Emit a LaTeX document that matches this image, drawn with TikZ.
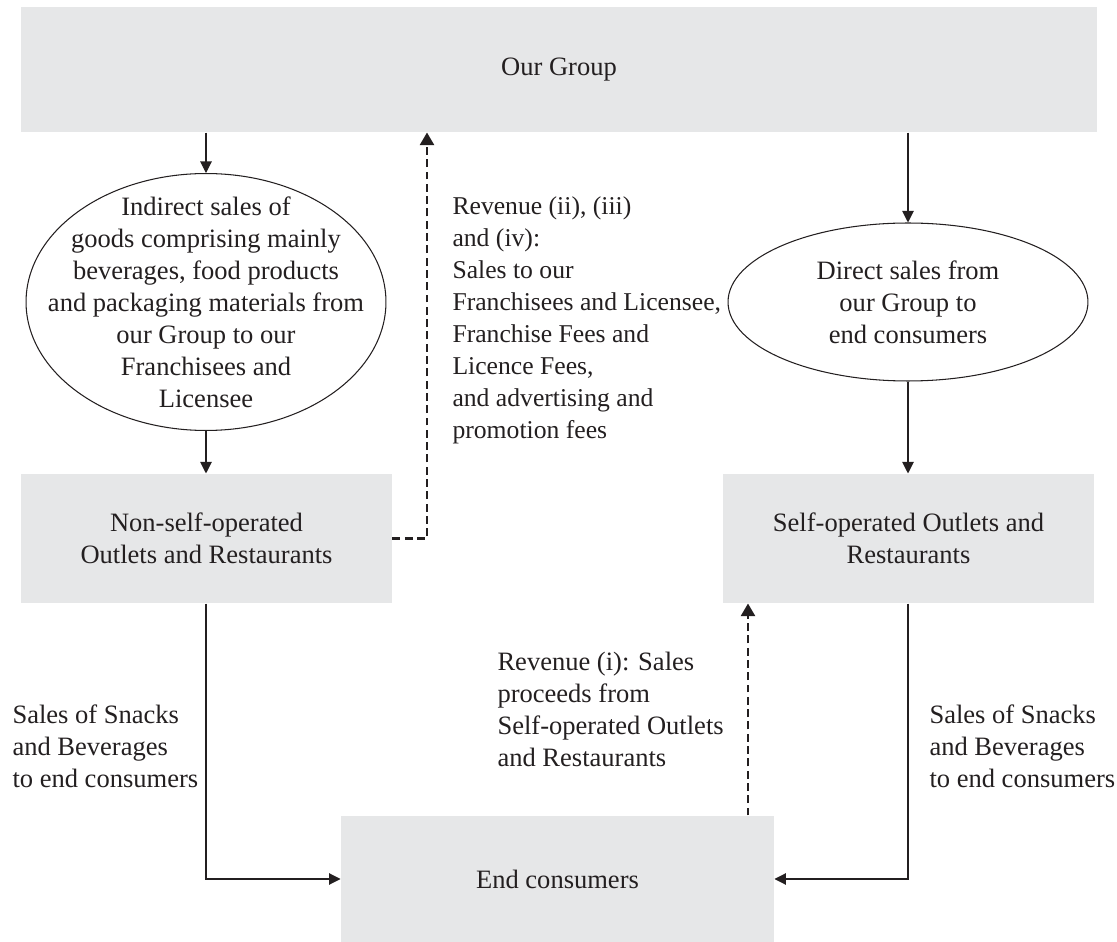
\documentclass[tikz,border=0pt]{standalone}
\usepackage{fontspec}
\setmainfont{Liberation Serif}
\usetikzlibrary{arrows.meta,shapes.geometric,positioning}
\definecolor{boxgray}{HTML}{E6E7E8}
\definecolor{ink}{HTML}{231F20}

\begin{document}
\begin{tikzpicture}[x=0.02cm,y=-0.02cm,
   font=\fontsize{15.1pt}{18.2pt}\selectfont,
   >={Triangle[length=2.3mm,width=2.3mm]},
   line width=0.6pt,draw=ink,text=ink,
   unit/.style={fill=boxgray,inner sep=0pt,align=center},
   sale/.style={ellipse,draw,inner sep=0pt},
   inside/.style={inner sep=0pt,align=center},
   note/.style={anchor=north west,inner sep=0pt,align=left},
   flow/.style={->},
   fee/.style={-{Triangle[length=2.5mm,width=2.8mm]},dash pattern=on 4.5pt off 2.5pt,line width=1.2pt}]
   \useasboundingbox (0,0) rectangle (1117,942);
   % boxes and ellipses
   \node[unit,minimum width=21.52cm,minimum height=2.5cm] (group) at (559,69.5) {Our Group};
   \node[sale,minimum width=7.2cm,minimum height=5.14cm] (indirect) at (206,302) {};
   \node[inside] (indirecttext) at (indirect.center) {Indirect sales of\\goods comprising mainly\\beverages, food products\\and packaging materials from\\our Group to our\\Franchisees and\\Licensee};
   \node[sale,minimum width=7.2cm,minimum height=3.16cm] (direct) at (908,302) {};
   \node[inside] (directtext) at (direct.center) {Direct sales from\\our Group to\\end consumers};
   \node[unit,minimum width=7.42cm,minimum height=2.58cm] (nonself) at (206.5,538.5) {Non-self-operated\\Outlets and Restaurants};
   \node[unit,minimum width=7.42cm,minimum height=2.58cm] (self) at (908.5,538.5) {Self-operated Outlets and\\Restaurants};
   \node[unit,minimum width=8.66cm,minimum height=2.52cm] (consumers) at (557.5,879) {End consumers};
   % labels
   \node[note,font=\fontsize{14.6pt}{18.2pt}\selectfont] (revfees) at (452,196) {Revenue (ii), (iii)\\and (iv):\\Sales to our\\Franchisees and Licensee,\\Franchise Fees and\\Licence Fees,\\and advertising and\\promotion fees};
   \node[note] (revsales) at (497,652) {Revenue (i): Sales\\proceeds from\\Self-operated Outlets\\and Restaurants};
   \node[note] (leftsales) at (12,704) {Sales of Snacks\\and Beverages\\to end consumers};
   \node[note] (rightsales) at (929,704) {Sales of Snacks\\and Beverages\\to end consumers};
   % connectors
   \coordinate (feeturn) at (427,538.5);
   \coordinate (revup) at (748,0);
   \draw[flow] (group.south -| indirect.north) -- (indirect.north);
   \draw[flow] (indirect.south) -- (indirect.south |- nonself.north);
   \draw[flow] (group.south -| direct.north) -- (direct.north);
   \draw[flow] (direct.south) -- (direct.south |- self.north);
   \draw[flow] (nonself.south -| indirect.south) |- (consumers.west);
   \draw[flow] (self.south -| direct.south) |- (consumers.east);
   \draw[fee] (nonself.east) -- (feeturn) -- (feeturn |- group.south);
   \draw[fee] (consumers.north -| revup) -- (self.south -| revup);
\end{tikzpicture}
\end{document}
